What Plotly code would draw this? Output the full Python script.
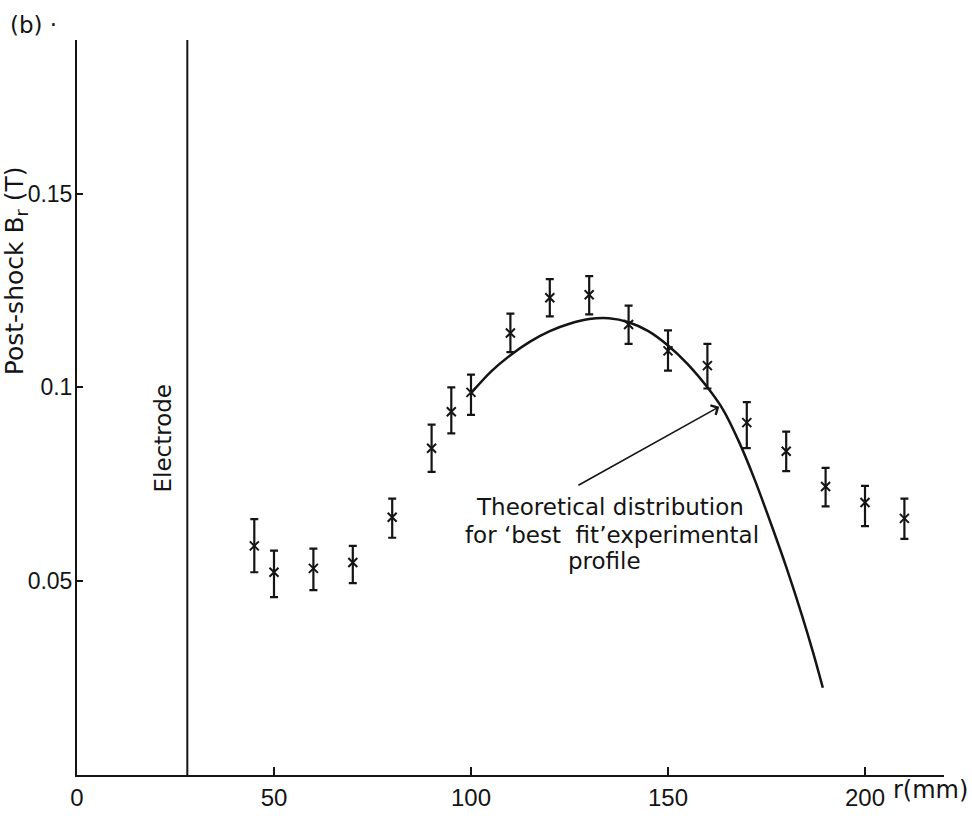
import plotly.graph_objects as go

# ---- data ----
r_meas = [45, 50, 60, 70, 80, 90, 95, 100, 110, 120, 130, 140, 150, 160, 170, 180, 190, 200, 210]
b_meas = [0.0591, 0.0523, 0.0533, 0.0548, 0.0665, 0.0843, 0.0937, 0.0987, 0.1140, 0.1231,
          0.1239, 0.1162, 0.1094, 0.1056, 0.0909, 0.0835, 0.0744, 0.0703, 0.0662]
err_up = [0.0069, 0.0056, 0.0051, 0.0043, 0.0048, 0.0061, 0.0063, 0.0046, 0.0050, 0.0048,
          0.0048, 0.0049, 0.0053, 0.0056, 0.0053, 0.0051, 0.0048, 0.0043, 0.0051]
err_dn = [0.0068, 0.0064, 0.0056, 0.0053, 0.0053, 0.0061, 0.0056, 0.0058, 0.0049, 0.0048,
          0.0051, 0.0050, 0.0051, 0.0059, 0.0066, 0.0051, 0.0051, 0.0061, 0.0053]

r_theory = [100, 105, 110, 115, 120, 125, 130, 135, 140, 145, 150, 155, 160, 164,
            168, 172, 176, 180, 184, 187, 189.3]
b_theory = [0.0985, 0.1040, 0.1083, 0.1118, 0.1145, 0.1164, 0.1176, 0.1178, 0.1168, 0.1145,
            0.1108, 0.1060, 0.1000, 0.0942, 0.0860, 0.0762, 0.0652, 0.0537, 0.0412, 0.0310, 0.0225]

electrode_r = 28
x_tickvals = [0, 50, 100, 150, 200]
x_ticktext = ["0", "50", "100", "150", "200"]
y_tickvals = [0.05, 0.10, 0.15]
y_ticktext = ["0.05", "0.1", "0.15"]
x_range = [0, 220.05]
y_range = [0, 0.1896]

INK = "#141414"
FONT = "DejaVu Sans"

# plot-area geometry in pixels
L, T, W, H = 77, 40, 867, 747


def paper(px, py):
    return (px - L) / W, (T + H - py) / H


fig = go.Figure()

# electrode line
fig.add_trace(go.Scatter(x=[electrode_r, electrode_r], y=y_range, mode="lines",
                         line=dict(color=INK, width=2), hoverinfo="skip", showlegend=False))

# theoretical curve
fig.add_trace(go.Scatter(x=r_theory, y=b_theory, mode="lines",
                         line=dict(color=INK, width=2.5, shape="spline", smoothing=0.8),
                         showlegend=False))

# measurements
fig.add_trace(go.Scatter(
    x=r_meas, y=b_meas, mode="markers",
    marker=dict(symbol="x-thin", size=9, line=dict(color=INK, width=2), color=INK),
    error_y=dict(type="data", symmetric=False, array=err_up, arrayminus=err_dn,
                 thickness=2.2, width=4, color=INK),
    showlegend=False))

annotations = []

# arrow to curve
annotations.append(dict(x=163, y=0.0950, ax=126.5, ay=0.0743, xref="x", yref="y",
                        axref="x", ayref="y", showarrow=True, arrowhead=4, arrowsize=1.3,
                        arrowwidth=1.6, arrowcolor=INK, text=" ", standoff=0))

lines = [("Theoretical distribution", 610, 515),
         ("for \u2018best  fit\u2019experimental", 612, 543),
         ("profile", 604, 570)]
for txt, px, py in lines:
    xp, yp = paper(px, py)
    annotations.append(dict(x=xp, y=yp, xref="paper", yref="paper", text=txt, showarrow=False,
                            xanchor="center", yanchor="middle",
                            font=dict(family=FONT, size=23, color=INK)))

# electrode label
xp, yp = paper(163, 445)
annotations.append(dict(x=xp, y=yp, xref="paper", yref="paper", text="Electrode",
                        textangle=-90, showarrow=False, xanchor="center", yanchor="middle",
                        font=dict(family=FONT, size=23, color=INK)))

# y axis title
xp, yp = paper(16, 275)
annotations.append(dict(x=xp, y=yp, xref="paper", yref="paper",
                        text="Post-shock B<sub>r</sub> (T)",
                        textangle=-90, showarrow=False, xanchor="center", yanchor="middle",
                        font=dict(family=FONT, size=25, color=INK)))

# x axis unit
xp, yp = paper(930, 802)
annotations.append(dict(x=xp, y=yp, xref="paper", yref="paper", text="r(mm)",
                        showarrow=False, xanchor="center", yanchor="middle",
                        font=dict(family=FONT, size=24, color=INK)))

# panel label
xp, yp = paper(33, 25)
annotations.append(dict(x=xp, y=yp, xref="paper", yref="paper", text="(b) \u00b7",
                        showarrow=False, xanchor="center", yanchor="middle",
                        font=dict(family=FONT, size=23, color=INK)))

fig.update_layout(
    width=972, height=823,
    margin=dict(l=L, r=972 - L - W, t=T, b=823 - T - H),
    paper_bgcolor="white", plot_bgcolor="white",
    annotations=annotations,
    xaxis=dict(range=x_range, tickvals=x_tickvals, ticktext=x_ticktext,
               showgrid=False, zeroline=False, showline=True, linecolor=INK, linewidth=2,
               ticks="inside", ticklen=8, tickwidth=2, tickcolor=INK,
               tickfont=dict(family="Liberation Sans", size=24, color=INK)),
    yaxis=dict(range=y_range, tickvals=y_tickvals, ticktext=y_ticktext,
               showgrid=False, zeroline=False, showline=True, linecolor=INK, linewidth=2,
               ticks="inside", ticklen=6, tickwidth=2, tickcolor=INK,
               ticklabelstandoff=-2,
               tickfont=dict(family="Liberation Sans", size=23, color=INK)),
)

fig.write_html("out.html")
